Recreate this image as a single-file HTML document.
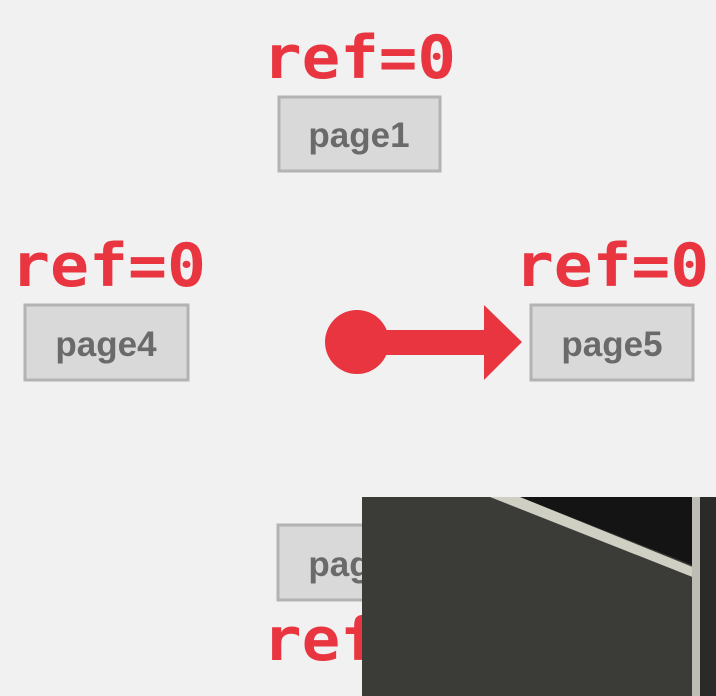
<!DOCTYPE html>
<html><head><style>
html,body{margin:0;padding:0;background:#f1f1f1;}
svg{display:block}
.r{font-family:"DejaVu Sans Mono","Liberation Mono",monospace;font-weight:bold;font-size:60px;fill:#e8353f}
.p{font-family:"Liberation Sans",sans-serif;font-weight:bold;font-size:35px;fill:#6a6a6a}
.b{fill:#d9d9d9;stroke:#b3b3b3;stroke-width:3}
</style></head><body>
<svg width="716" height="696" viewBox="0 0 716 696">
<rect width="716" height="696" fill="#f1f1f1"/>
<text class="r" x="263" y="78" textLength="193" lengthAdjust="spacingAndGlyphs">ref=0</text>
<rect class="b" x="279" y="97" width="161" height="74"/>
<text class="p" x="359" y="147" text-anchor="middle">page1</text>

<text class="r" x="11" y="286" textLength="195" lengthAdjust="spacingAndGlyphs">ref=0</text>
<rect class="b" x="25" y="305" width="163" height="75"/>
<text class="p" x="106" y="356" text-anchor="middle">page4</text>

<text class="r" x="515" y="286" textLength="194" lengthAdjust="spacingAndGlyphs">ref=0</text>
<rect class="b" x="531" y="305" width="162" height="75"/>
<text class="p" x="612" y="356" text-anchor="middle">page5</text>

<circle cx="357" cy="342" r="32" fill="#e8353f"/>
<rect x="357" y="330" width="130" height="25" fill="#e8353f"/>
<polygon points="484,305 522,342 484,380" fill="#e8353f"/>

<rect class="b" x="278" y="525" width="162" height="75"/>
<text class="p" x="359" y="576" text-anchor="middle">page2</text>
<text class="r" x="263" y="660" textLength="193" lengthAdjust="spacingAndGlyphs">ref=0</text>

<rect x="362" y="497" width="354" height="199" fill="#3b3b37"/>
<polygon points="520,497 692,497 692,565" fill="#141414"/>
<polygon points="490,497 520,497 700,570 700,580" fill="#cfcfc4"/>
<rect x="692" y="497" width="8" height="199" fill="#bdbdb5"/>
<rect x="700" y="497" width="16" height="199" fill="#2a2a28"/>
</svg>
</body></html>
